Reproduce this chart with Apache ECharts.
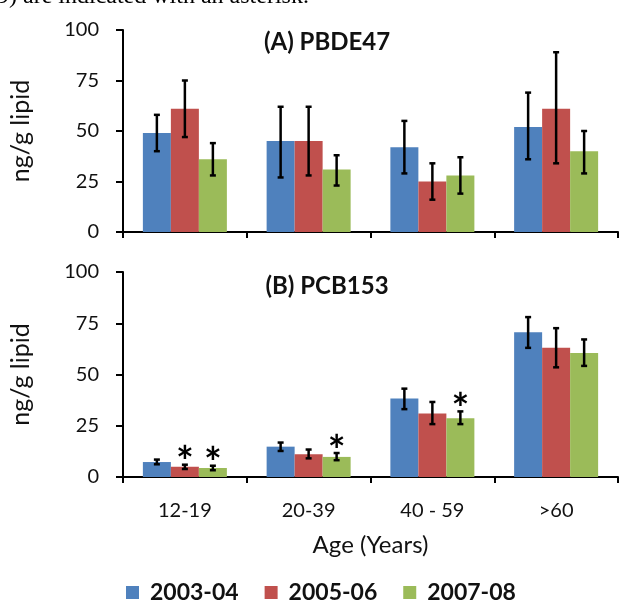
<!DOCTYPE html>
<html>
<head>
<meta charset="utf-8">
<script src="https://cdn.jsdelivr.net/npm/echarts@6/dist/echarts.min.js"></script>
<style>
  html, body { margin: 0; padding: 0; background: #fff; }
  #chart { width: 624px; height: 606px; }
</style>
</head>
<body>
<div id="chart"></div>
<script>
// 数据
var ages = ["12-19", "20-39", "40 - 59", ">60"];
var periods = ["2003-04", "2005-06", "2007-08"];
var colors = ["#4F81BD", "#C0504D", "#9BBB59"];
var yTicks = [0, 25, 50, 75, 100];

// (A) PBDE47
var pbde0304 = [49, 45, 42, 52];
var pbde0304Lo = [40, 27, 29, 36];
var pbde0304Hi = [58, 62, 55, 69];
var pbde0506 = [61, 45, 25, 61];
var pbde0506Lo = [47, 28, 16, 34];
var pbde0506Hi = [75, 62, 34, 89];
var pbde0708 = [36, 31, 28, 40];
var pbde0708Lo = [28, 23, 19, 29];
var pbde0708Hi = [44, 38, 37, 50];

// (B) PCB153
var pcb0304 = [7.3, 14.8, 38.3, 70.6];
var pcb0304Lo = [6.2, 12.7, 33.1, 63.0];
var pcb0304Hi = [8.5, 16.8, 43.1, 78.0];
var pcb0506 = [5.0, 11.1, 31.0, 63.1];
var pcb0506Lo = [3.9, 9.1, 25.8, 53.5];
var pcb0506Hi = [6.0, 13.4, 36.6, 72.6];
var pcb0708 = [4.4, 9.8, 28.7, 60.5];
var pcb0708Lo = [3.3, 8.2, 25.8, 54.2];
var pcb0708Hi = [5.5, 11.7, 32.0, 67.1];

// 显著性星号 (1 = 有星号)
var pcb0506Star = [1, 0, 0, 0];
var pcb0708Star = [1, 1, 1, 0];
var noStar = [0, 0, 0, 0];

var FONT = "Lato";
var BAR_W = 28;

(function () {
  var myChart = echarts.init(document.getElementById("chart"));

  // 误差线 + 星号
  function errorSeries(name, k, lo, hi, star, axisIdx) {
    var data = lo.map(function (v, i) { return [i, v, hi[i], star[i]]; });
    return {
      name: name,
      type: "custom",
      xAxisIndex: axisIdx,
      yAxisIndex: axisIdx,
      z: 10,
      silent: true,
      data: data,
      renderItem: function (params, api) {
        var off = (k - 1) * BAR_W;
        var pLo = api.coord([api.value(0), api.value(1)]);
        var pHi = api.coord([api.value(0), api.value(2)]);
        var x = pLo[0] + off;
        var cap = 3;
        var st = { stroke: "#000", lineWidth: 2.5 };
        var children = [
          { type: "line", shape: { x1: x, y1: pHi[1], x2: x, y2: pLo[1] }, style: st },
          { type: "line", shape: { x1: x - cap, y1: pHi[1], x2: x + cap, y2: pHi[1] }, style: st },
          { type: "line", shape: { x1: x - cap, y1: pLo[1], x2: x + cap, y2: pLo[1] }, style: st }
        ];
        if (api.value(3)) {
          // 星号
          children.push({
            type: "text",
            style: {
              text: "*",
              x: x,
              y: pHi[1] - 1,
              align: "center",
              verticalAlign: "middle",
              font: "bold 42px " + FONT,
              fill: "#000"
            }
          });
        }
        return { type: "group", children: children };
      }
    };
  }

  function barSeries(name, k, values, axisIdx) {
    return {
      name: name,
      type: "bar",
      xAxisIndex: axisIdx,
      yAxisIndex: axisIdx,
      barWidth: BAR_W,
      barGap: "0%",
      itemStyle: { color: colors[k] },
      data: values
    };
  }

  function xAxisCfg(gridIdx, showLabel) {
    return {
      type: "category",
      gridIndex: gridIdx,
      data: ages,
      axisLine: { lineStyle: { color: "#000", width: 2 } },
      axisTick: { show: true, length: 6, lineStyle: { color: "#000", width: 2 } },
      axisLabel: { show: showLabel, color: "#111", fontFamily: FONT, fontSize: 20, margin: 24 },
      name: showLabel ? "Age (Years)" : "",
      nameLocation: "middle",
      nameGap: 56,
      nameTextStyle: { color: "#111", fontFamily: FONT, fontSize: 24 }
    };
  }

  function yAxisCfg(gridIdx) {
    return {
      type: "value",
      gridIndex: gridIdx,
      min: yTicks[0],
      max: yTicks[yTicks.length - 1],
      interval: yTicks[1] - yTicks[0],
      splitLine: { show: false },
      axisLine: { show: true, lineStyle: { color: "#000", width: 2 } },
      axisTick: { show: true, length: 7, lineStyle: { color: "#000", width: 2 } },
      axisLabel: { color: "#111", fontFamily: FONT, fontSize: 20, margin: 24 },
      name: "ng/g lipid",
      nameLocation: "middle",
      nameRotate: 90,
      nameGap: 90,
      nameTextStyle: { color: "#111", fontFamily: FONT, fontSize: 25 }
    };
  }

  var option = {
    backgroundColor: "#fff",
    animation: false,
    textStyle: { fontFamily: FONT },
    title: [
      { text: "(A) PBDE47", left: 322, top: 25, textAlign: "center",
        textStyle: { fontFamily: FONT, fontWeight: "bold", fontSize: 24, color: "#111" } },
      { text: "(B) PCB153", left: 322, top: 269, textAlign: "center",
        textStyle: { fontFamily: FONT, fontWeight: "bold", fontSize: 24, color: "#111" } }
    ],
    graphic: [
      { type: "text", left: -3, top: -15,
        style: { text: "9) are indicated with an asterisk.", font: "24px 'Liberation Serif'", fill: "#000" } }
    ],
    legend: {
      data: periods,
      left: 121,
      top: 576,
      icon: "rect",
      itemWidth: 13,
      itemHeight: 13,
      itemGap: 26,
      textStyle: { fontFamily: FONT, fontWeight: "bold", fontSize: 23, color: "#111", padding: [0, 0, 0, 6] }
    },
    grid: [
      { left: 122, right: 6, top: 30, height: 202 },
      { left: 122, right: 6, top: 272, height: 205 }
    ],
    xAxis: [xAxisCfg(0, false), xAxisCfg(1, true)],
    yAxis: [yAxisCfg(0), yAxisCfg(1)],
    series: [
      barSeries(periods[0], 0, pbde0304, 0),
      barSeries(periods[1], 1, pbde0506, 0),
      barSeries(periods[2], 2, pbde0708, 0),
      barSeries(periods[0], 0, pcb0304, 1),
      barSeries(periods[1], 1, pcb0506, 1),
      barSeries(periods[2], 2, pcb0708, 1),
      errorSeries("errA0", 0, pbde0304Lo, pbde0304Hi, noStar, 0),
      errorSeries("errA1", 1, pbde0506Lo, pbde0506Hi, noStar, 0),
      errorSeries("errA2", 2, pbde0708Lo, pbde0708Hi, noStar, 0),
      errorSeries("errB0", 0, pcb0304Lo, pcb0304Hi, noStar, 1),
      errorSeries("errB1", 1, pcb0506Lo, pcb0506Hi, pcb0506Star, 1),
      errorSeries("errB2", 2, pcb0708Lo, pcb0708Hi, pcb0708Star, 1)
    ]
  };

  myChart.setOption(option);
  window.addEventListener("resize", function () {
    myChart.resize();
  });
})();
</script>
</body>
</html>
